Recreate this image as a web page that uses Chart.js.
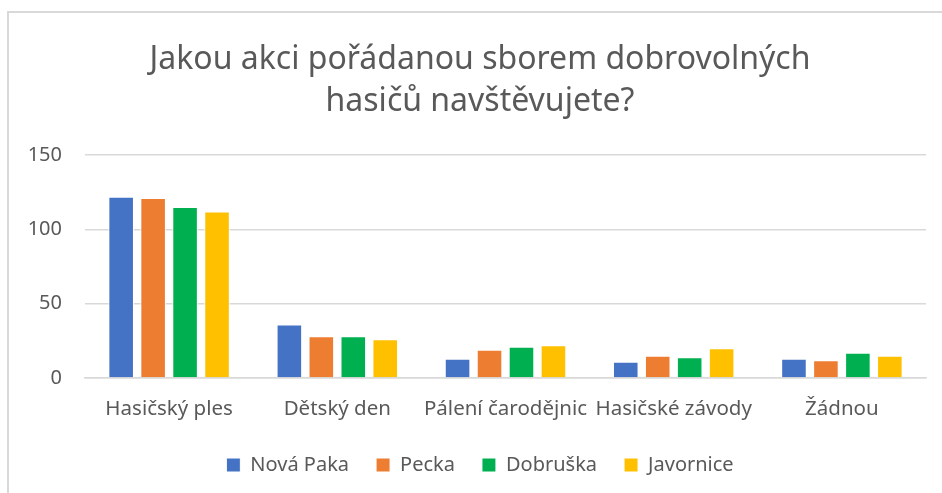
<!DOCTYPE html>
<html>
<head>
<meta charset="utf-8">
<script src="https://cdn.jsdelivr.net/npm/chart.js@4.4.0/dist/chart.umd.min.js"></script>
<style>
    html, body { margin: 0; padding: 0; background: #fff; }
    #wrap { position: relative; width: 942px; height: 493px; overflow: hidden; }
    #frame { position: absolute; left: 7px; top: 11px; width: 960px; height: 500px;
             border-left: 2px solid #d9d9d9; border-top: 2px solid #d9d9d9; }
    canvas { position: absolute; left: 0; top: 0; }
</style>
</head>
<body>
<div id="wrap">
    <div id="frame"></div>
    <canvas id="chart" width="942" height="493"></canvas>
</div>
<script>
// Chart data
const categories = ['Hasičský ples', 'Dětský den', 'Pálení čarodějnic', 'Hasičské závody', 'Žádnou'];
const novaPaka = [122, 36, 13, 11, 13];
const pecka = [121, 28, 19, 15, 12];
const dobruska = [115, 28, 21, 14, 17];
const javornice = [112, 26, 22, 20, 15];
const yTicks = [0, 50, 100, 150];

const fontFamily = '"Noto Sans", "Open Sans", sans-serif';
const textColor = '#595959';

function makeDataset(label, values, color) {
    return {
        label: label,
        data: values,
        backgroundColor: color,
        borderColor: '#ffffff',
        borderWidth: 1,
        categoryPercentage: 0.76,
        barPercentage: 0.8
    };
}

const ctx = document.getElementById('chart').getContext('2d');
new Chart(ctx, {
    type: 'bar',
    data: {
        labels: categories,
        datasets: [
            makeDataset('Nová Paka', novaPaka, '#4472C4'),
            makeDataset('Pecka', pecka, '#ED7D31'),
            makeDataset('Dobruška', dobruska, '#00B050'),
            makeDataset('Javornice', javornice, '#FFC000')
        ]
    },
    options: {
        responsive: false,
        animation: false,
        layout: { padding: { left: 20, right: 2, top: 0, bottom: 8 } },
        scales: {
            y: {
                min: 0,
                max: 150,
                afterFit: function (axis) { axis.width = 65; },
                afterBuildTicks: function (axis) {
                    axis.ticks = yTicks.map(v => ({ value: v }));
                },
                border: { display: false },
                grid: { color: '#d9d9d9', lineWidth: 1.5, drawTicks: false },
                ticks: {
                    padding: 23,
                    color: textColor,
                    font: { family: fontFamily, size: 20 }
                }
            },
            // empty spacer on the right so the title sits centred like the original
            spacer: {
                type: 'linear',
                position: 'right',
                afterFit: function (axis) { axis.width = 14; },
                border: { display: false },
                grid: { display: false, drawTicks: false },
                ticks: { display: false }
            },
            x: {
                afterFit: function (axis) { axis.height = 50; },
                border: { color: '#d9d9d9', width: 1.5 },
                grid: { display: false, drawTicks: false },
                ticks: {
                    padding: 19,
                    maxRotation: 0,
                    autoSkip: false,
                    color: textColor,
                    font: { family: fontFamily, size: 20.5 }
                }
            }
        },
        plugins: {
            title: {
                display: true,
                text: ['Jakou akci pořádanou sborem dobrovolných', 'hasičů navštěvujete?'],
                color: textColor,
                font: { family: fontFamily, size: 32, weight: 'normal', lineHeight: 1.3125 },
                padding: { top: 39, bottom: 32 }
            },
            legend: {
                position: 'bottom',
                labels: {
                    boxWidth: 14,
                    boxHeight: 14,
                    padding: 27,
                    color: textColor,
                    font: { family: fontFamily, size: 20 }
                }
            },
            tooltip: { enabled: false }
        }
    }
});
</script>
</body>
</html>
